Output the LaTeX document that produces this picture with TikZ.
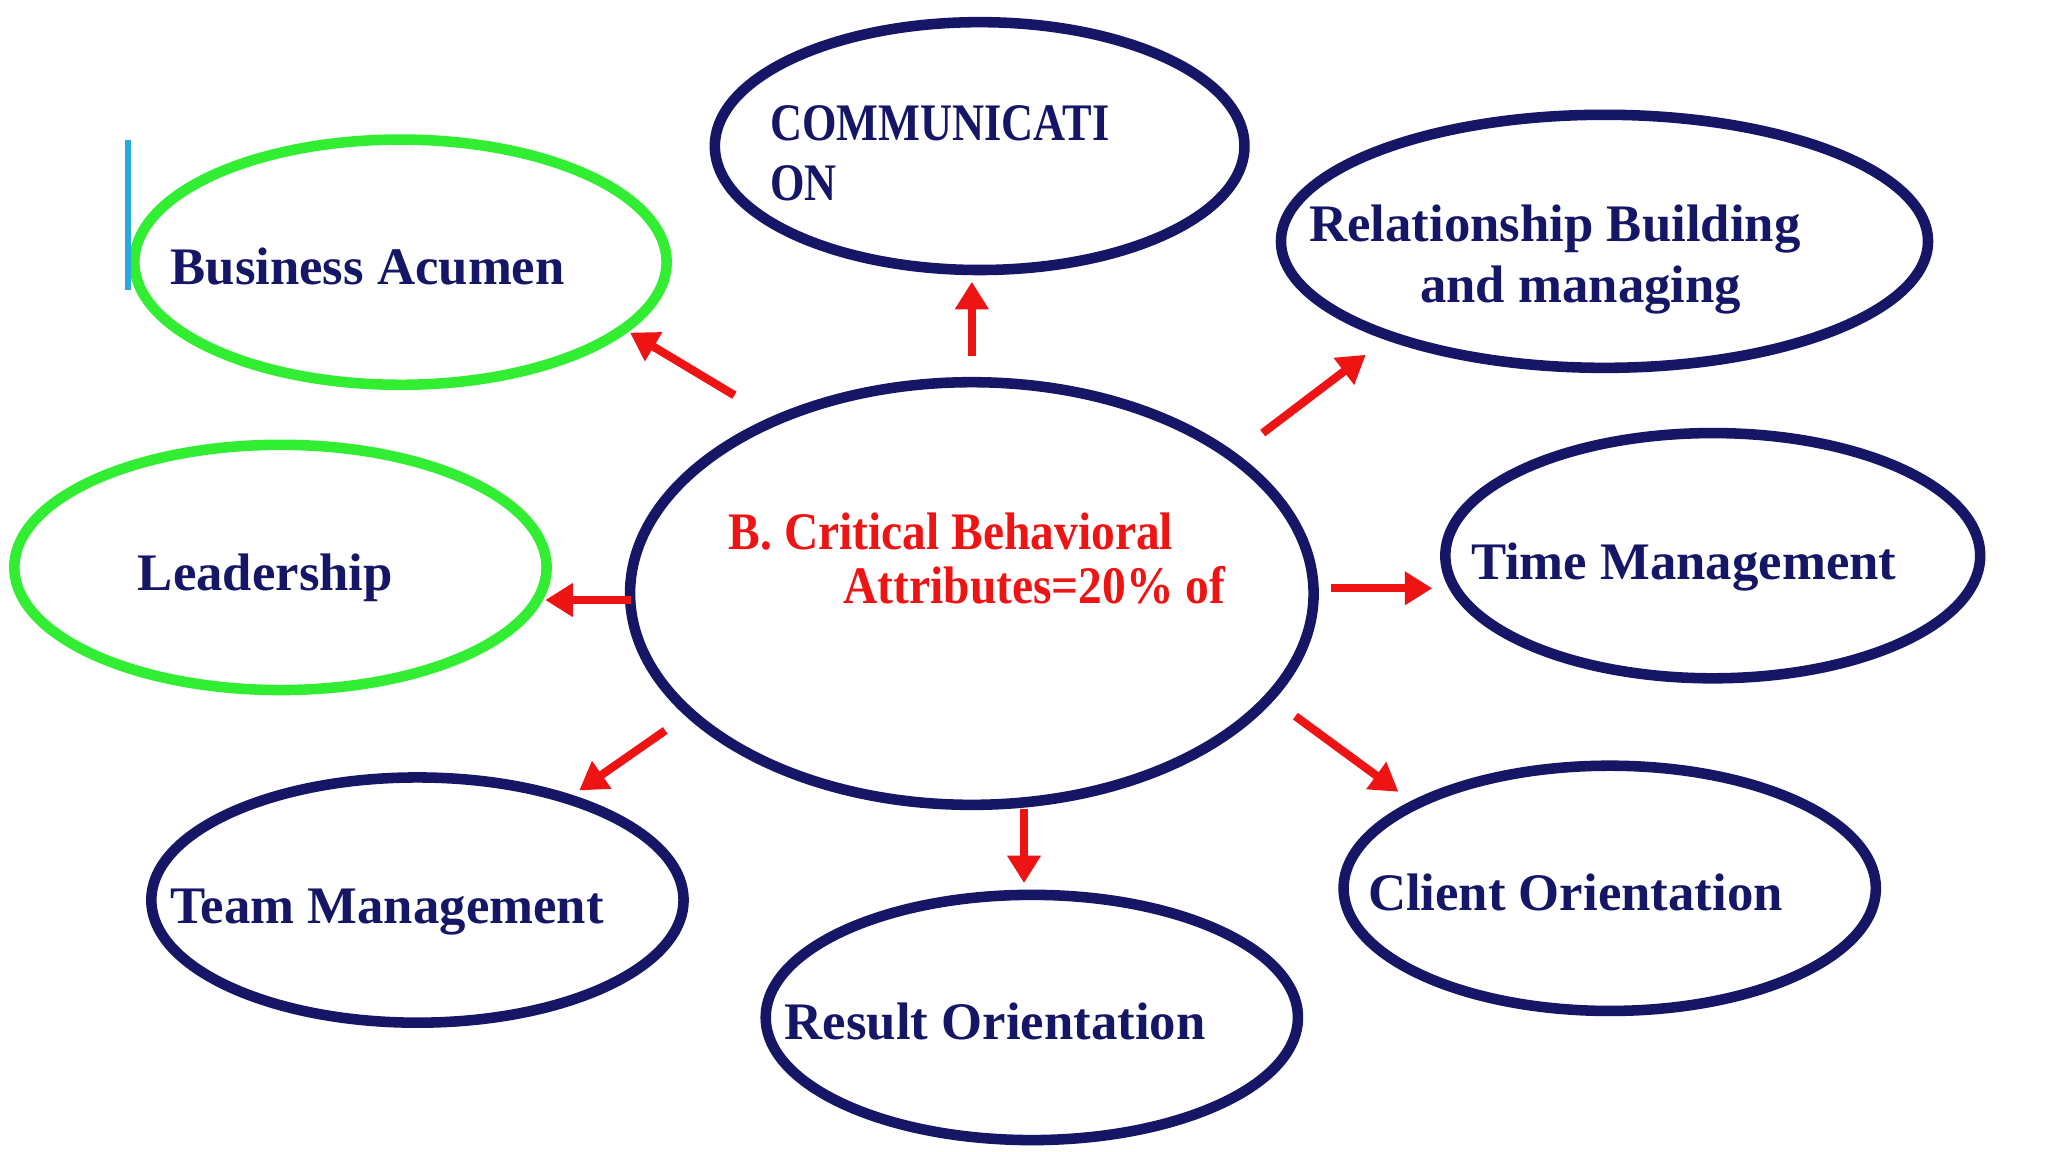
\documentclass[tikz,border=0pt]{standalone}
\usepackage{fontspec}
\setmainfont{Liberation Serif}
\usetikzlibrary{arrows.meta}
\definecolor{navy}{RGB}{22,22,102}
\definecolor{grn}{RGB}{50,238,50}
\definecolor{rd}{RGB}{238,20,20}
\begin{document}
\begin{tikzpicture}[x=0.01cm,y=-0.01cm,
  ov/.style={draw=navy,line width=2.3pt},
  gv/.style={draw=grn,line width=2.3pt},
  lb/.style={anchor=base west,inner sep=0pt,text=navy,font=\fontsize{11.5}{14}\selectfont\bfseries},
  ar/.style={draw=rd,line width=1.8pt,-{Triangle[length=6pt,width=7pt]}}]
\useasboundingbox (0,0) rectangle (1570,883);
\fill[white] (0,0) rectangle (1570,883);
\draw[ov] (751,112) ellipse [x radius=203,y radius=95];
\draw[gv] (307,201) ellipse [x radius=204,y radius=94];
\draw[ov] (1230,185) ellipse [x radius=248,y radius=97];
\draw[gv] (215,435) ellipse [x radius=204,y radius=94];
\draw[ov] (745,455) ellipse [x radius=262,y radius=162];
\draw[ov] (1313,426) ellipse [x radius=205,y radius=94];
\draw[ov] (320,690) ellipse [x radius=204,y radius=94];
\draw[ov] (791,780) ellipse [x radius=204,y radius=94];
\draw[ov] (1234,681) ellipse [x radius=204,y radius=94];
\draw[draw={rgb,255:red,40;green,170;blue,220},line width=1.2pt] (98,107) -- (98,222);
\node[lb,xscale=0.84] (tc1) at (590,108) {COMMUNICATI};
\node[lb,xscale=0.84] (tc2) at (590,154) {ON};
\node[lb] (tba) at (130,218) {Business Acumen};
\node[lb] (tr1) at (1003,185) {Relationship Building};
\node[lb] (tr2) at (1088,232) {and managing};
\node[lb] (tl) at (105,453) {Leadership};
\node[lb,text=rd,xscale=0.9] (tb1) at (558,421) {B. Critical Behavioral};
\node[lb,text=rd,xscale=0.9] (tb2) at (646,463) {Attributes=20\% of};
\node[lb] (tt) at (1127,444) {Time Management};
\node[lb] (ttm) at (130,708) {Team Management};
\node[lb] (tro) at (601,797) {Result Orientation};
\node[lb] (tco) at (1048,698) {Client Orientation};
\coordinate (a1) at (563,303); \coordinate (b1) at (483,255);
\coordinate (a2) at (745,273); \coordinate (b2) at (745,216);
\coordinate (a3) at (968,332); \coordinate (b3) at (1047,272);
\coordinate (a4) at (484,460); \coordinate (b4) at (418,460);
\coordinate (a5) at (1020,451); \coordinate (b5) at (1098,451);
\coordinate (a6) at (510,560); \coordinate (b6) at (444,606);
\coordinate (a7) at (785,620); \coordinate (b7) at (785,677);
\coordinate (a8) at (993,549); \coordinate (b8) at (1072,607);
\foreach \i in {1,...,8} \draw[ar] (a\i) -- (b\i);
\end{tikzpicture}
\end{document}
